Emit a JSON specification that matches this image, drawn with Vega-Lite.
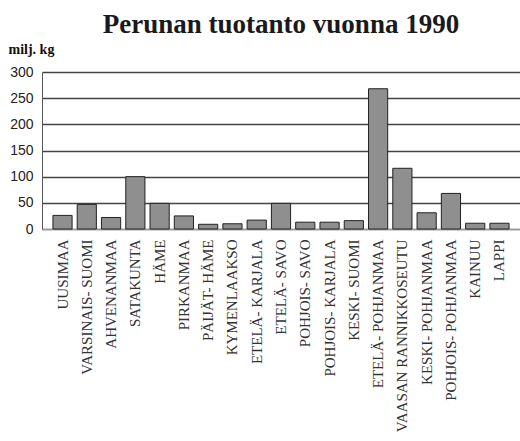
{
  "$schema": "https://vega.github.io/schema/vega-lite/v6.json",
  "autosize": "none",
  "width": 478,
  "height": 157,
  "padding": {"left": 42, "top": 72, "right": 0, "bottom": 212},
  "background": "white",
  "title": {
    "text": "Perunan tuotanto vuonna 1990",
    "font": "Liberation Serif",
    "fontSize": 27,
    "fontWeight": "bold",
    "color": "#1a1a1a",
    "anchor": "middle",
    "frame": "group",
    "offset": 3
  },
  "data": {
    "values": [
      {"alue": "UUSIMAA", "milj_kg": 26},
      {"alue": "VARSINAIS- SUOMI", "milj_kg": 47},
      {"alue": "AHVENANMAA", "milj_kg": 22},
      {"alue": "SATAKUNTA", "milj_kg": 100},
      {"alue": "HÄME", "milj_kg": 49},
      {"alue": "PIRKANMAA", "milj_kg": 25},
      {"alue": "PÄIJÄT- HÄME", "milj_kg": 9},
      {"alue": "KYMENLAAKSO", "milj_kg": 10},
      {"alue": "ETELÄ- KARJALA", "milj_kg": 17},
      {"alue": "ETELÄ- SAVO", "milj_kg": 49},
      {"alue": "POHJOIS- SAVO", "milj_kg": 13},
      {"alue": "POHJOIS- KARJALA", "milj_kg": 13},
      {"alue": "KESKI- SUOMI", "milj_kg": 16},
      {"alue": "ETELÄ- POHJANMAA", "milj_kg": 268},
      {"alue": "VAASAN RANNIKKOSEUTU", "milj_kg": 116},
      {"alue": "KESKI- POHJANMAA", "milj_kg": 31},
      {"alue": "POHJOIS- POHJANMAA", "milj_kg": 68},
      {"alue": "KAINUU", "milj_kg": 11},
      {"alue": "LAPPI", "milj_kg": 11}
    ]
  },
  "mark": {"type": "bar", "fill": "#8f8f8f", "stroke": "#222", "strokeWidth": 1},
  "encoding": {
    "x": {
      "field": "alue",
      "type": "nominal",
      "sort": null,
      "scale": {"paddingInner": 0.21, "paddingOuter": 0.45},
      "axis": {
        "title": null,
        "labelAngle": -90,
        "labelFont": "Liberation Serif",
        "labelFontSize": 15,
        "labelColor": "#333",
        "labelPadding": 10,
        "ticks": false,
        "domainColor": "#999",
        "labelLimit": 300
      }
    },
    "y": {
      "field": "milj_kg",
      "type": "quantitative",
      "scale": {"domain": [0, 300], "nice": false},
      "axis": {
        "values": [0, 50, 100, 150, 200, 250, 300],
        "title": "milj. kg",
        "titleAngle": 0,
        "titleX": -34,
        "titleY": -19,
        "titleAlign": "left",
        "titleBaseline": "alphabetic",
        "titleFont": "Liberation Serif",
        "titleFontSize": 14,
        "titleFontWeight": "bold",
        "titleColor": "#111",
        "labelFont": "Liberation Sans",
        "labelFontSize": 14,
        "labelColor": "#222",
        "labelPadding": 9,
        "ticks": false,
        "domainColor": "#555",
        "gridColor": "#444",
        "gridWidth": 1.4
      }
    }
  },
  "config": {"view": {"stroke": null}}
}
